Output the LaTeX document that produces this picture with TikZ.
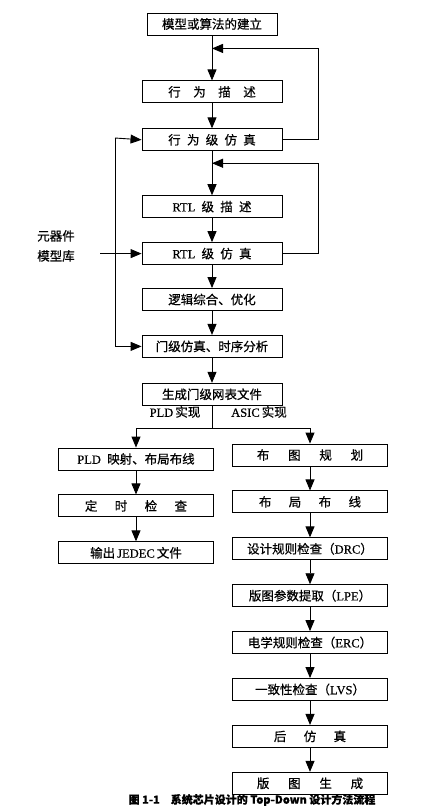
\documentclass[tikz,border=0pt]{standalone}
\usepackage{fontspec}
\setmainfont[FakeBold=0.5]{Liberation Serif}
\newfontfamily\cjk[FakeBold=0.6]{Noto Sans CJK SC}
\newcommand{\zh}[1]{{\cjk #1}}
\usetikzlibrary{arrows.meta,positioning}

\begin{document}
\begin{tikzpicture}[
    x=1pt, y=-1pt,
    node distance=24pt,
    box/.style={rectangle, draw, line width=0.9pt, minimum width=140pt, minimum height=22pt, inner sep=2pt, align=center, font=\fontsize{12.5}{14}\selectfont},
    sidebox/.style={box, minimum width=155pt},
    arrow/.style={-{Triangle[length=11pt, width=9pt]}, line width=0.9pt},
    line/.style={line width=0.9pt}
]
    \useasboundingbox (0,0) rectangle (426,810);

    % main column
    \node[box, minimum width=130pt] (model) at (212,24) {\zh{模型或算法的建立}};
    \node[box, below=45pt of model] (behdesc) {\zh{行\quad 为\quad 描\quad 述}};
    \node[box, below=25pt of behdesc] (behsim) {\zh{行\enspace 为\enspace 级\enspace 仿\enspace 真}};
    \node[box, below=44pt of behsim] (rtldesc) {RTL\enspace\zh{级\enspace 描\enspace 述}};
    \node[box, below=24pt of rtldesc] (rtlsim) {RTL\enspace\zh{级\enspace 仿\enspace 真}};
    \node[box, below=23pt of rtlsim] (synth) {\zh{逻辑综合、优化}};
    \node[box, below=24pt of synth] (gatesim) {\zh{门级仿真、时序分析}};
    \node[box, below=25pt of gatesim] (netlist) {\zh{生成门级网表文件}};

    \coordinate[below=13pt of model] (fb1);
    \coordinate[below=12pt of behsim] (fb2);
    \coordinate (bus) at (115,138);
    \coordinate (libin) at (100,0);
    \coordinate[below=23pt of netlist] (split);

    % library input
    \node[align=center, font=\fontsize{12.5}{14}\selectfont] (lib) at (56,246) {\zh{元器件}\\[6pt]\zh{模型库}};

    % PLD branch
    \node[font=\fontsize{12.5}{14}\selectfont] (pldlabel) at (175,412) {PLD\,\zh{实现}};
    \node[sidebox] (pldfit) at (136,459) {PLD\enspace\zh{映射、布局布线}};
    \node[sidebox, below=of pldfit] (timing) {\zh{定\quad\, 时\quad\, 检\quad\, 查}};
    \node[sidebox, below=of timing] (jedec) {\zh{输出}\,JEDEC\,\zh{文件}};

    % ASIC branch
    \node[font=\fontsize{12.5}{14}\selectfont] (asiclabel) at (259,412) {ASIC\,\zh{实现}};
    \node[sidebox] (floor) at (310,455) {\zh{布\quad\enspace 图\quad\enspace 规\quad\enspace 划}};
    \node[sidebox, below=of floor] (route) {\zh{布\quad\, 局\quad\, 布\quad\, 线}};
    \node[sidebox, below=of route] (drc) {\zh{设计规则检查（}DRC\zh{）}};
    \node[sidebox, below=of drc] (lpe) {\zh{版图参数提取（}LPE\zh{）}};
    \node[sidebox, below=of lpe] (erc) {\zh{电学规则检查（}ERC\zh{）}};
    \node[sidebox, below=of erc] (lvs) {\zh{一致性检查（}LVS\zh{）}};
    \node[sidebox, below=of lvs] (postsim) {\zh{后\quad\, 仿\quad\, 真}};
    \node[sidebox, below=of postsim] (layout) {\zh{版\quad\enspace 图\quad\enspace 生\quad\enspace 成}};

    \node[font=\cjk\bfseries\fontsize{11}{13}\selectfont] (caption) at (252,800) {图 1-1\quad 系统芯片设计的 Top-Down 设计方法流程};

    \draw[arrow] (model) -- (behdesc);
    \draw[arrow] (behdesc) -- (behsim);
    \draw[arrow] (behsim) -- (rtldesc);
    \draw[arrow] (rtldesc) -- (rtlsim);
    \draw[arrow] (rtlsim) -- (synth);
    \draw[arrow] (synth) -- (gatesim);
    \draw[arrow] (gatesim) -- (netlist);

    % feedback loops
    \draw[arrow] (behsim.east) -- ++(36,0) |- (fb1);
    \draw[arrow] (rtlsim.east) -- ++(36,0) |- (fb2);

    % simulation library bus
    \draw[arrow] (bus) -- (behsim.west);
    \draw[arrow] (bus) |- (gatesim.west);
    \draw[arrow] (rtlsim.west -| libin) -- (rtlsim.west);

    \draw[line] (netlist) -- (split);
    \draw[arrow] (split) -| (pldfit);
    \draw[arrow] (split) -| (floor);

    \draw[arrow] (pldfit) -- (timing);
    \draw[arrow] (timing) -- (jedec);

    \draw[arrow] (floor) -- (route);
    \draw[arrow] (route) -- (drc);
    \draw[arrow] (drc) -- (lpe);
    \draw[arrow] (lpe) -- (erc);
    \draw[arrow] (erc) -- (lvs);
    \draw[arrow] (lvs) -- (postsim);
    \draw[arrow] (postsim) -- (layout);
\end{tikzpicture}
\end{document}
